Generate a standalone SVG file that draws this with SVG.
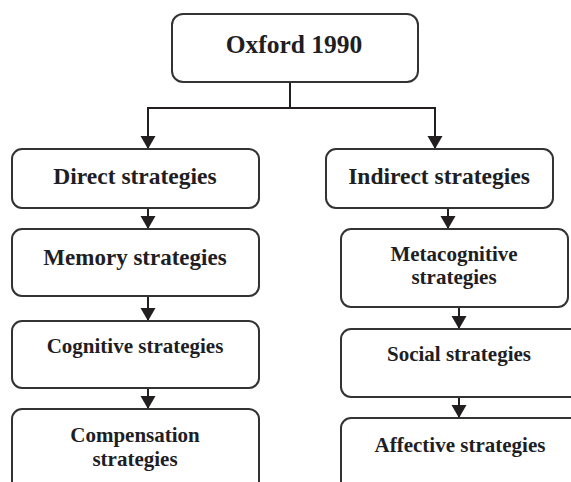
<svg xmlns="http://www.w3.org/2000/svg" width="571" height="482" viewBox="0 0 571 482">
<style>
.box{fill:#fff;stroke:#333;stroke-width:2}
.t{font-family:"Liberation Serif","Times New Roman",serif;font-weight:bold;fill:#1e1e24;text-anchor:middle}
.l{fill:none;stroke:#231f20;stroke-width:2}
</style>
<defs>
<marker id="ah" markerUnits="userSpaceOnUse" markerWidth="14" markerHeight="16" refX="13" refY="8" orient="auto" viewBox="0 0 14 16">
<path d="M0,0.5 L13,8 L0,15.5 Z" fill="#231f20"/>
</marker>
</defs>
<rect width="571" height="482" fill="#fff"/>
<g id="connectors">
<path class="l" d="M290,82 V108"/>
<path class="l" d="M148,108 H435"/>
<path class="l" d="M148,107 V149" marker-end="url(#ah)"/>
<path class="l" d="M435,107 V149" marker-end="url(#ah)"/>
<path class="l" d="M148,208 V229" marker-end="url(#ah)"/>
<path class="l" d="M148,296 V321" marker-end="url(#ah)"/>
<path class="l" d="M148,388 V409" marker-end="url(#ah)"/>
<path class="l" d="M448,208 V229" marker-end="url(#ah)"/>
<path class="l" d="M459,307 V329" marker-end="url(#ah)"/>
<path class="l" d="M459,397 V418" marker-end="url(#ah)"/>
</g>
<g id="oxford">
<rect class="box" x="172" y="14" width="246" height="68" rx="11"/>
<text class="t" x="294" y="53" font-size="25.5">Oxford 1990</text>
</g>
<g id="direct">
<rect class="box" x="12" y="149" width="247" height="59" rx="10"/>
<text class="t" x="135" y="184" font-size="23.5">Direct strategies</text>
</g>
<g id="memory">
<rect class="box" x="12" y="229" width="247" height="67" rx="10"/>
<text class="t" x="135" y="265" font-size="23">Memory strategies</text>
</g>
<g id="cognitive">
<rect class="box" x="12" y="321" width="247" height="67" rx="10"/>
<text class="t" x="135" y="353" font-size="21">Cognitive strategies</text>
</g>
<g id="compensation">
<rect class="box" x="12" y="409" width="247" height="90" rx="10"/>
<text class="t" x="135" y="442" font-size="21">Compensation</text>
<text class="t" x="135" y="466" font-size="21">strategies</text>
</g>
<g id="indirect">
<rect class="box" x="326" y="149" width="227" height="59" rx="10"/>
<text class="t" x="439" y="184" font-size="23.5">Indirect strategies</text>
</g>
<g id="metacognitive">
<rect class="box" x="341" y="229" width="227" height="78" rx="10"/>
<text class="t" x="454" y="261" font-size="21">Metacognitive</text>
<text class="t" x="454" y="284" font-size="21">strategies</text>
</g>
<g id="social">
<rect class="box" x="341" y="329" width="245" height="68" rx="10"/>
<text class="t" x="459" y="361" font-size="21">Social strategies</text>
</g>
<g id="affective">
<rect class="box" x="341" y="418" width="245" height="90" rx="10"/>
<text class="t" x="460" y="452" font-size="21">Affective strategies</text>
</g>
</svg>
